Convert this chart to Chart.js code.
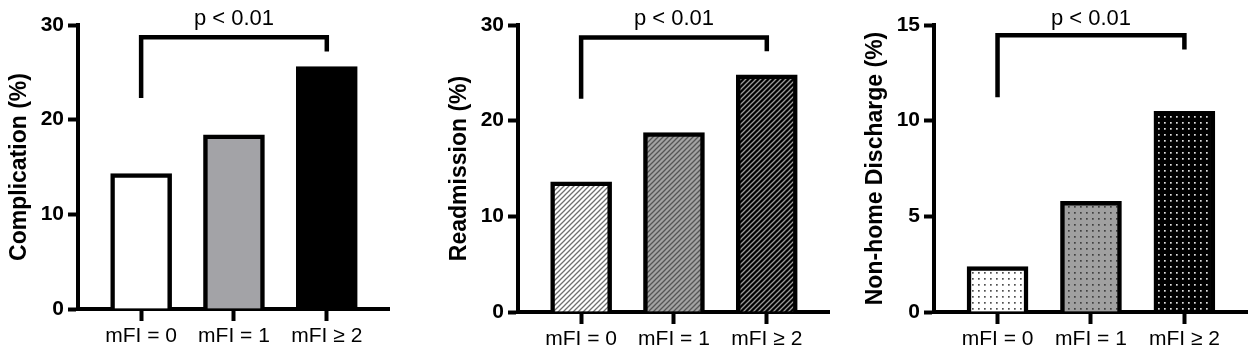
<!DOCTYPE html>
<html>
<head>
<meta charset="utf-8">
<script src="https://cdn.jsdelivr.net/npm/chart.js@4.4.1/dist/chart.umd.min.js"></script>
<style>
  html, body { margin: 0; padding: 0; background: #fff; }
  .panel { position: absolute; top: 0; height: 354px; }
</style>
</head>
<body>
<div class="panel" style="left:0px;width:440px"><canvas id="c1"></canvas></div>
<div class="panel" style="left:440px;width:416px"><canvas id="c2"></canvas></div>
<div class="panel" style="left:856px;width:398px"><canvas id="c3"></canvas></div>
<script>
// data
const categories = ['mFI = 0', 'mFI = 1', 'mFI \u2265 2'];
const complication = [14.3, 18.4, 25.6];
const readmission = [13.6, 18.75, 24.8];
const nonHomeDischarge = [2.37, 5.79, 10.49];

const yTitles = ['Complication (%)', 'Readmission (%)', 'Non-home Discharge (%)'];
const yMax = [30, 30, 15];
const yStep = [10, 10, 5];

// bracket: [left leg end, bar top, right leg end]
const brackets = [
  [22.3, 28.7, 27.2],
  [22.3, 28.7, 27.25],
  [11.23, 14.47, 13.72],
];
const pLabels = ['p < 0.01', 'p < 0.01', 'p < 0.01'];

const FONT = "'Liberation Sans', Arial, Helvetica, sans-serif";

function hatchPattern(bg, fg) {
  const s = 5;
  const c = document.createElement('canvas');
  c.width = s;
  c.height = s;
  const g = c.getContext('2d');
  g.fillStyle = bg;
  g.fillRect(0, 0, s, s);
  g.strokeStyle = fg;
  g.lineWidth = 1.3;
  g.beginPath();
  g.moveTo(0, s);
  g.lineTo(s, 0);
  g.moveTo(-1, 1);
  g.lineTo(1, -1);
  g.moveTo(s - 1, s + 1);
  g.lineTo(s + 1, s - 1);
  g.stroke();
  return g.createPattern(c, 'repeat');
}

function dotPattern(bg, fg) {
  const s = 6;
  const c = document.createElement('canvas');
  c.width = s;
  c.height = s;
  const g = c.getContext('2d');
  g.fillStyle = bg;
  g.fillRect(0, 0, s, s);
  g.fillStyle = fg;
  g.fillRect(2, 2, 1.7, 1.7);
  return g.createPattern(c, 'repeat');
}

const fills = [
  ['#ffffff', '#a3a3a7', '#000000'],
  [hatchPattern('#ffffff', '#707070'), hatchPattern('#a3a3a3', '#555555'), hatchPattern('#000000', '#9a9a9a')],
  [dotPattern('#ffffff', '#505050'), dotPattern('#a0a0a0', '#404040'), dotPattern('#000000', '#e0e0e0')],
];

const pText = {
  id: 'pText',
  afterDraw(chart, args, opts) {
    const ctx = chart.ctx;
    const x = chart.scales.x.getPixelForValue(1);
    ctx.save();
    ctx.font = '22px ' + FONT;
    ctx.fillStyle = '#000';
    ctx.textAlign = 'center';
    ctx.textBaseline = 'alphabetic';
    ctx.fillText(opts.text, x, 25);
    ctx.restore();
  },
};

function makeChart(id, idx, values, padRight, xHeight) {
  const br = brackets[idx];
  new Chart(document.getElementById(id), {
    type: 'bar',
    data: {
      datasets: [
        {
          data: values.map((v, i) => ({ x: i, y: v })),
          backgroundColor: fills[idx],
          borderColor: '#000',
          borderWidth: 4.5,
          borderSkipped: 'start',
          barThickness: 61,
        },
        {
          type: 'line',
          data: [
            { x: 0, y: br[0] },
            { x: 0, y: br[1] },
            { x: 2, y: br[1] },
            { x: 2, y: br[2] },
          ],
          borderColor: '#000',
          borderWidth: 4.5,
          borderJoinStyle: 'miter',
          borderCapStyle: 'butt',
          pointRadius: 0,
          fill: false,
          tension: 0,
        },
      ],
    },
    options: {
      responsive: true,
      maintainAspectRatio: false,
      animation: false,
      layout: { padding: { top: 25, right: padRight, left: 0, bottom: 0 } },
      plugins: {
        legend: { display: false },
        tooltip: { enabled: false },
        pText: { text: pLabels[idx] },
      },
      scales: {
        x: {
          type: 'linear',
          min: -0.68,
          max: 2.67,
          offset: false,
          afterBuildTicks: (axis) => {
            axis.ticks = categories.map((c, i) => ({ value: i }));
          },
          afterFit: (axis) => {
            axis.height = xHeight;
          },
          ticks: {
            color: '#000',
            font: { family: FONT, size: 21 },
            padding: 3,
            maxRotation: 0,
            autoSkip: false,
            callback: (v) => categories[v],
          },
          grid: {
            offset: false,
            drawOnChartArea: false,
            drawTicks: true,
            tickLength: 12,
            tickWidth: 4,
            tickColor: '#000',
          },
          border: { display: true, color: '#000', width: 4 },
        },
        y: {
          min: 0,
          max: yMax[idx],
          afterFit: (axis) => {
            axis.width = 78;
          },
          ticks: {
            stepSize: yStep[idx],
            color: '#000',
            font: { family: FONT, size: 21, weight: 'bold' },
            padding: 4,
          },
          grid: {
            drawOnChartArea: false,
            drawTicks: true,
            tickLength: 10,
            tickWidth: 4,
            tickColor: '#000',
          },
          border: { display: true, color: '#000', width: 4 },
          title: {
            display: true,
            text: yTitles[idx],
            color: '#000',
            font: { family: FONT, size: 23, weight: 'bold' },
            padding: { top: 6, bottom: 0 },
          },
        },
      },
    },
    plugins: [pText],
  });
}

makeChart('c1', 0, complication, 51, 45);
makeChart('c2', 1, readmission, 27, 42);
makeChart('c3', 2, nonHomeDischarge, 7, 42);
</script>
</body>
</html>
